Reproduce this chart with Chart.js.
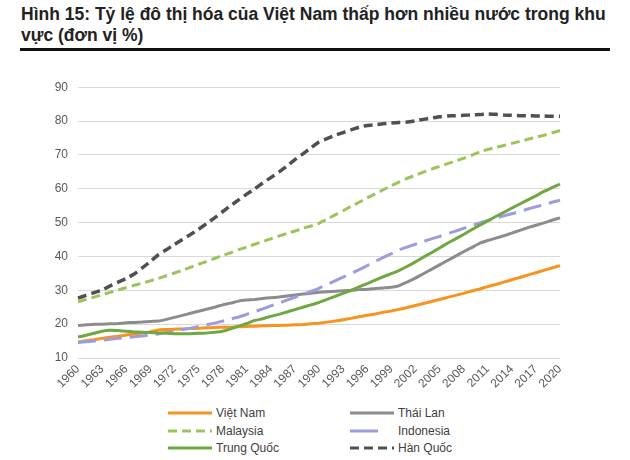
<!DOCTYPE html>
<html>
<head>
<meta charset="utf-8">
<script src="https://cdn.jsdelivr.net/npm/chart.js@4.4.1/dist/chart.umd.min.js"></script>
<style>
  body { margin: 0; background: #fff; font-family: "Liberation Sans", Arial, sans-serif; }
  #page { position: relative; width: 630px; height: 460px; overflow: hidden; }
  #title { position: absolute; left: 21px; top: 4px; width: 600px; font-size: 17.5px; font-weight: bold; line-height: 20.5px; color: #222; }
  #rule { position: absolute; left: 20px; top: 48px; width: 590px; height: 3px; background: #111; }
  #wrap { position: absolute; left: 0; top: 70px; width: 580px; height: 330px; }
  .leg { position: absolute; font-size: 12px; color: #404040; height: 14px; line-height: 14px; white-space: nowrap; }
  .leg svg { position: absolute; top: 2px; }
</style>
</head>
<body>
<div id="page">
  <div id="title">Hình 15: Tỷ lệ đô thị hóa của Việt Nam thấp hơn nhiều nước trong khu vực (đơn vị %)</div>
  <div id="rule"></div>
  <div id="wrap"><canvas id="chart"></canvas></div>
  <div id="legend"></div>
</div>
<script>
// Years 1960 - 2020, labels shown every 3 years
const years = [];
for (let y = 1960; y <= 2020; y++) years.push(String(y));

const vietNam = [14.7, 15.1, 15.4, 15.8, 16.1, 16.4, 16.8, 17.1, 17.4, 17.7,
  18.3, 18.4, 18.5, 18.6, 18.7, 18.8, 18.9, 19.0, 19.1, 19.1,
  19.2, 19.3, 19.4, 19.5, 19.6, 19.6, 19.7, 19.8, 19.9, 20.1,
  20.3, 20.6, 20.9, 21.3, 21.7, 22.2, 22.6, 23.0, 23.5, 23.9,
  24.4, 24.9, 25.5, 26.1, 26.7, 27.3, 27.9, 28.5, 29.1, 29.8,
  30.4, 31.1, 31.7, 32.4, 33.1, 33.8, 34.5, 35.2, 35.9, 36.6, 37.3];

const thaiLan = [19.6, 19.8, 20.0, 20.0, 20.1, 20.2, 20.4, 20.5, 20.6, 20.8,
  20.9, 21.4, 22.0, 22.6, 23.2, 23.8, 24.4, 25.0, 25.7, 26.2,
  26.8, 27.1, 27.3, 27.6, 27.8, 28.0, 28.3, 28.6, 28.9, 29.1,
  29.4, 29.6, 29.7, 29.9, 30.0, 30.2, 30.3, 30.5, 30.7, 30.9,
  31.4, 32.5, 33.6, 34.9, 36.2, 37.5, 38.8, 40.1, 41.4, 42.6,
  43.9, 44.7, 45.4, 46.1, 46.9, 47.7, 48.5, 49.2, 49.9, 50.7, 51.4];

const malaysia = [26.6, 27.3, 28.0, 28.7, 29.4, 30.1, 30.8, 31.5, 32.1, 32.8,
  33.5, 34.3, 35.1, 35.9, 36.8, 37.7, 38.5, 39.4, 40.3, 41.1,
  42.0, 42.8, 43.6, 44.4, 45.2, 46.0, 46.8, 47.5, 48.3, 49.0,
  49.8, 51.0, 52.3, 53.5, 54.8, 56.0, 57.3, 58.5, 59.7, 60.9,
  62.0, 63.1, 64.0, 64.9, 65.8, 66.6, 67.4, 68.2, 69.0, 69.9,
  70.9, 71.6, 72.2, 72.8, 73.4, 74.0, 74.6, 75.2, 75.8, 76.5, 77.2];

const indonesia = [14.6, 14.8, 15.0, 15.3, 15.5, 15.8, 16.0, 16.3, 16.5, 16.8,
  17.1, 17.5, 17.9, 18.4, 18.8, 19.3, 19.8, 20.3, 20.9, 21.5,
  22.1, 22.9, 23.7, 24.5, 25.4, 26.2, 27.1, 27.9, 28.8, 29.7,
  30.6, 31.7, 32.8, 33.9, 35.0, 36.1, 37.3, 38.5, 39.7, 40.8,
  42.0, 42.8, 43.6, 44.4, 45.2, 45.9, 46.7, 47.5, 48.3, 49.1,
  49.9, 50.6, 51.3, 52.0, 52.6, 53.3, 54.0, 54.7, 55.3, 56.0, 56.6];

const trungQuoc = [16.2, 16.7, 17.3, 17.9, 18.2, 18.1, 17.9, 17.7, 17.6, 17.5,
  17.4, 17.3, 17.2, 17.2, 17.2, 17.3, 17.4, 17.6, 17.9, 18.6,
  19.4, 20.2, 21.1, 21.6, 22.3, 22.9, 23.6, 24.3, 25.0, 25.7,
  26.4, 27.3, 28.2, 29.1, 30.0, 31.0, 32.0, 33.0, 34.0, 34.9,
  35.9, 37.1, 38.4, 39.8, 41.1, 42.5, 43.9, 45.2, 46.5, 47.9,
  49.2, 50.5, 51.8, 53.0, 54.3, 55.5, 56.7, 57.9, 59.2, 60.3, 61.4];

const hanQuoc = [27.7, 28.5, 29.3, 30.1, 31.3, 32.4, 33.5, 34.8, 36.6, 38.5,
  40.5, 42.0, 43.5, 45.0, 46.5, 48.0, 49.7, 51.4, 53.2, 55.0,
  56.7, 58.4, 60.0, 61.7, 63.3, 64.9, 66.7, 68.6, 70.3, 72.1,
  73.8, 74.8, 75.8, 76.6, 77.4, 78.2, 78.7, 78.9, 79.2, 79.4,
  79.6, 79.7, 80.1, 80.5, 80.9, 81.3, 81.5, 81.6, 81.7, 81.8,
  81.9, 82.1, 82.0, 81.8, 81.7, 81.6, 81.6, 81.5, 81.5, 81.4, 81.4];

const yTicks = [10, 20, 30, 40, 50, 60, 70, 80, 90];

// Series styles (legend order: row by row, two columns)
const series = [
  { label: "Việt Nam", data: vietNam, color: "#F7931E", dash: [], width: 3 },
  { label: "Thái Lan", data: thaiLan, color: "#8C8C8C", dash: [], width: 3 },
  { label: "Malaysia", data: malaysia, color: "#9BC55A", dash: [9, 5], width: 3 },
  { label: "Indonesia", data: indonesia, color: "#9C9CE0", dash: [18, 8], width: 3 },
  { label: "Trung Quốc", data: trungQuoc, color: "#6FA843", dash: [], width: 3 },
  { label: "Hàn Quốc", data: hanQuoc, color: "#505050", dash: [9, 5], width: 3.5 }
];

const ctx = document.getElementById("chart").getContext("2d");
new Chart(ctx, {
  type: "line",
  data: {
    labels: years,
    datasets: series.map((s, i) => ({
      label: s.label,
      data: s.data,
      borderColor: s.color,
      backgroundColor: s.color,
      borderDash: s.dash,
      borderWidth: s.width,
      pointRadius: 0,
      tension: 0.1,
      order: series.length - i
    }))
  },
  options: {
    responsive: true,
    maintainAspectRatio: false,
    animation: false,
    layout: { padding: { top: 15, right: 20, left: 0, bottom: 0 } },
    plugins: { legend: { display: false }, tooltip: { enabled: false } },
    scales: {
      x: {
        grid: { display: false, drawTicks: false },
        border: { display: false },
        ticks: {
          autoSkip: false,
          minRotation: 45,
          maxRotation: 45,
          padding: 4,
          color: "#595959",
          font: { family: "Liberation Sans", size: 12 },
          callback: function (v, i) { return i % 3 === 0 ? years[i] : ""; }
        },
        afterFit: function (s) { s.height = 42; }
      },
      y: {
        min: 10,
        max: 90,
        grid: { color: "#D9D9D9", lineWidth: 1, drawTicks: false },
        border: { display: false },
        ticks: {
          stepSize: 10,
          padding: 10,
          color: "#595959",
          font: { family: "Liberation Sans", size: 12 },
          callback: function (v) { return yTicks.includes(v) ? v : ""; }
        },
        afterFit: function (s) { s.width = 78; }
      }
    }
  }
});

// Two-column legend under the chart
const legend = document.getElementById("legend");
const colX = [168, 350];
const rowY = [406, 424, 441];
series.forEach((s, i) => {
  const col = i % 2, row = Math.floor(i / 2);
  const item = document.createElement("div");
  item.className = "leg";
  item.style.left = colX[col] + "px";
  item.style.top = rowY[row] + "px";
  const dash = s.label === "Indonesia" ? "28 20" : (s.dash.length ? s.dash.join(" ") : "none");
  item.innerHTML = '<svg width="44" height="10"><line x1="0" y1="5" x2="44" y2="5" stroke="' + s.color +
    '" stroke-width="3" stroke-dasharray="' + dash + '"/></svg>' +
    '<span style="position:absolute;left:48px;top:0">' + s.label + "</span>";
  legend.appendChild(item);
});
</script>
</body>
</html>
